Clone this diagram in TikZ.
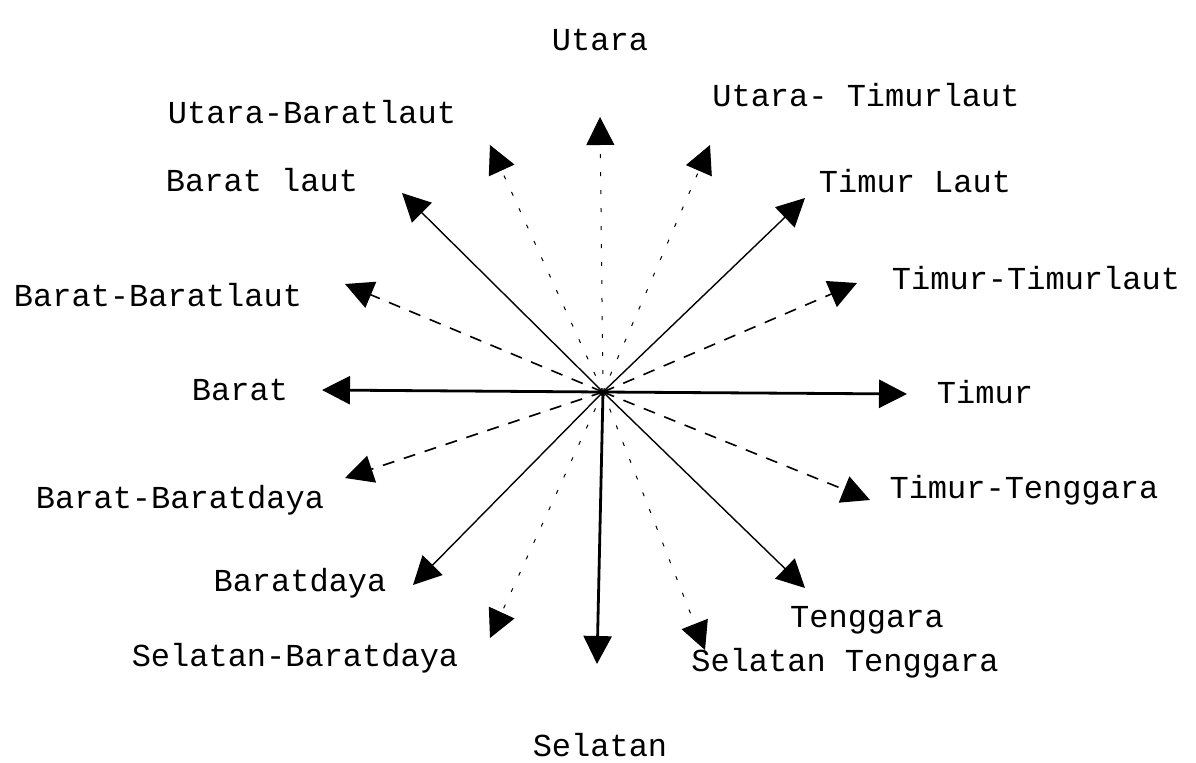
\documentclass[tikz,border=0pt]{standalone}
\usepackage{fontspec}
\setmonofont{Liberation Mono}
\usetikzlibrary{arrows.meta,positioning}

\begin{document}
\begin{tikzpicture}[
    x=0.5pt, y=-0.5pt,
    point/.style={font=\ttfamily\fontsize{16}{18}\selectfont, inner sep=0pt},
    cardinal/.style={-{Triangle[length=14pt,width=14pt]}, line width=1.4pt},
    ordinal/.style={-{Triangle[length=14pt,width=14pt]}, line width=0.7pt},
    sidewind/.style={-{Triangle[length=14pt,width=14pt]}, line width=0.8pt, dash pattern=on 6pt off 5pt},
    steepwind/.style={-{Triangle[length=14pt,width=14pt]}, line width=0.5pt, dash pattern=on 2pt off 7pt}
  ]
  \useasboundingbox (0,0) rectangle (1196,762);

  % centre and arrow tips
  \coordinate (c) at (603,392);
  \coordinate (n) at (600,117);
  \coordinate (nne) at (710,145);
  \coordinate (ne) at (805,198);
  \coordinate (ene) at (857,283);
  \coordinate (e) at (907,394);
  \coordinate (ese) at (870,500);
  \coordinate (se) at (805,588);
  \coordinate (sse) at (705,650);
  \coordinate (s) at (597,664);
  \coordinate (ssw) at (490,638);
  \coordinate (sw) at (413,585);
  \coordinate (wsw) at (345,478);
  \coordinate (w) at (322,390);
  \coordinate (wnw) at (345,284);
  \coordinate (nw) at (402,193);
  \coordinate (nnw) at (490,145);

  % labels
  \node[point] (utara) at (600,40) {Utara};
  \node[point] (utbl) at (312,112) {Utara-Baratlaut};
  \node[point] (uttl) at (866,95) {Utara- Timurlaut};
  \node[point] (bl) at (262,180) {Barat laut};
  \node[point] (tl) at (915,181) {Timur Laut};
  \node[point] (bbl) at (158,295) {Barat-Baratlaut};
  \node[point] (ttl) at (1036,278) {Timur-Timurlaut};
  \node[point] (barat) at (240,390) {Barat};
  \node[point] (timur) at (985,392) {Timur};
  \node[point] (bbd) at (180,500) {Barat-Baratdaya};
  \node[point] (ttg) at (1024,490) {Timur-Tenggara};
  \node[point] (bd) at (300,583) {Baratdaya};
  \node[point] (tg) at (867,620) {Tenggara};
  \node[point] (sbd) at (295,658) {Selatan-Baratdaya};
  \node[point] (stg) at (845,663) {Selatan Tenggara};
  \node[point] (selatan) at (600,745) {Selatan};

  % winds
  \draw[steepwind] (c) -- (n);
  \draw[cardinal] (c) -- (s);
  \draw[cardinal] (c) -- (e);
  \draw[cardinal] (c) -- (w);
  \draw[ordinal] (c) -- (ne);
  \draw[ordinal] (c) -- (nw);
  \draw[ordinal] (c) -- (se);
  \draw[ordinal] (c) -- (sw);
  \draw[sidewind] (c) -- (ene);
  \draw[sidewind] (c) -- (wnw);
  \draw[sidewind] (c) -- (ese);
  \draw[sidewind] (c) -- (wsw);
  \draw[steepwind] (c) -- (nne);
  \draw[steepwind] (c) -- (nnw);
  \draw[steepwind] (c) -- (sse);
  \draw[steepwind] (c) -- (ssw);
\end{tikzpicture}
\end{document}
